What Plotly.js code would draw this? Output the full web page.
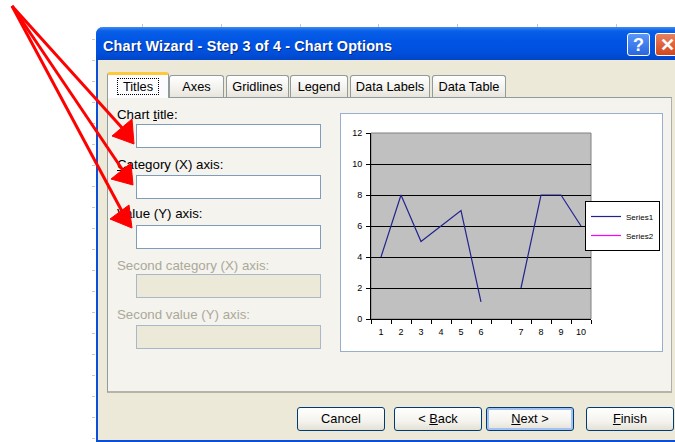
<!DOCTYPE html>
<html>
<head>
<meta charset="utf-8">
<script src="https://cdn.plot.ly/plotly-3.0.1.min.js"></script>
<style>
  html, body { margin:0; padding:0; }
  body { width:675px; height:442px; background:#ffffff; position:relative; overflow:hidden; font-family:"Liberation Sans", Arial, sans-serif; }
  .abs { position:absolute; }
  .tickv { position:absolute; width:1px; height:3px; background:#c8c8c8; top:24px; }
  .tickh { position:absolute; width:3px; height:1px; background:#c8c8c8; left:92px; }
  #dialog { left:96px; top:27px; width:600px; height:413px; background:#ECE9D8; border-left:2px solid #0B4FD8; border-bottom:3px solid #0B4FD8; border-top-left-radius:7px; }
  #titlebar { left:96px; top:27px; width:600px; height:33px; border-top-left-radius:7px;
    background:linear-gradient(#3C8CF5 0%, #0A5FE6 12%, #0055E5 40%, #0050DE 75%, #0046C8 100%); }
  #titletext { left:103px; top:38px; color:#fff; font:bold 14.4px "Liberation Sans", Arial, sans-serif; text-shadow:1px 1px 0 #0A2A80; white-space:nowrap; letter-spacing:0.15px; }
  .tbtn { top:33px; width:23px; height:23px; border:1px solid #fff; border-radius:3px; color:#fff; font:bold 18px "Liberation Sans", Arial, sans-serif; text-align:center; line-height:23px; box-sizing:border-box; }
  #help { left:627px; background:linear-gradient(#5A95F8, #2A67E0); }
  #close { left:655px; width:24px; background:linear-gradient(#E8825E, #D2461D); }
  #panel { left:107px; top:97px; width:565px; height:296px; background:#F4F3EE; border:1px solid #919B9C; border-right:1px solid #B0AFA8; border-bottom:2px solid #B6B4AA; box-sizing:border-box; }
  .tab { top:75px; height:22px; background:linear-gradient(#FFFFFF, #F2F1EC 60%, #E7E5DC); border:1px solid #919B9C; border-bottom:none; border-radius:3px 3px 0 0; box-sizing:border-box; font-size:12.8px; color:#000; text-align:center; line-height:22px; }
  .tab.sel { top:72px; height:26px; background:#FCFCFE; border-top:3px solid #FFC83C; line-height:23px; z-index:2; }
  .tab.sel span { border:1px dotted #000; padding:0 5px; }
  .lbl { font-size:13.3px; color:#000; white-space:nowrap; }
  .lbl.dis { color:#ACA899; }
  .inp { left:136px; width:185px; height:24px; background:#fff; border:1px solid #7F9DB9; box-sizing:border-box; }
  .inp.dis { background:#ECE9D8; border-color:#A9B8C9; }
  #chartbox { left:340px; top:113px; width:323px; height:239px; background:#FFFFFF; border:1px solid #97AECC; box-sizing:border-box; }
  #chart { left:341px; top:114px; width:321px; height:237px; }
  .btn { top:407px; height:24px; width:88px; border:1px solid #003C74; border-radius:3px; box-sizing:border-box; background:linear-gradient(#FFFFFF, #F4F3EE 60%, #E3E1D6); font-size:12.8px; text-align:center; line-height:22px; color:#000; }
  .btn.focus { box-shadow: inset 0 0 0 2px #A3C2F0; }
  #arrows { left:0; top:0; width:675px; height:442px; z-index:10; }
</style>
</head>
<body>
<div id="bgticks"></div>
<div id="dialog" class="abs"></div>
<div id="titlebar" class="abs"></div>
<div id="titletext" class="abs">Chart Wizard - Step 3 of 4 - Chart Options</div>
<div id="help" class="abs tbtn">?</div>
<div id="close" class="abs tbtn">✕</div>

<div id="panel" class="abs"></div>
<div class="abs tab sel" style="left:107px;width:62px;"><span>Titles</span></div>
<div class="abs tab" style="left:169px;width:55px;">Axes</div>
<div class="abs tab" style="left:226px;width:63px;">Gridlines</div>
<div class="abs tab" style="left:290px;width:58px;">Legend</div>
<div class="abs tab" style="left:350px;width:80px;">Data Labels</div>
<div class="abs tab" style="left:432px;width:74px;">Data Table</div>

<div class="abs lbl" style="left:117px;top:107px;">Chart <u>t</u>itle:</div>
<div class="abs inp" style="top:124px;"></div>
<div class="abs lbl" style="left:117px;top:157px;"><u>C</u>ategory (X) axis:</div>
<div class="abs inp" style="top:175px;"></div>
<div class="abs lbl" style="left:117px;top:206px;"><u>V</u>alue (Y) axis:</div>
<div class="abs inp" style="top:225px;"></div>
<div class="abs lbl dis" style="left:117px;top:258px;">Second category (X) axis:</div>
<div class="abs inp dis" style="top:274px;"></div>
<div class="abs lbl dis" style="left:117px;top:307px;">Second value (Y) axis:</div>
<div class="abs inp dis" style="top:325px;"></div>

<div id="chartbox" class="abs"></div>
<div id="chart" class="abs"></div>

<div class="abs btn" style="left:297px;">Cancel</div>
<div class="abs btn" style="left:394px;">&lt; <u>B</u>ack</div>
<div class="abs btn focus" style="left:486px;"><u>N</u>ext &gt;</div>
<div class="abs btn" style="left:586px;"><u>F</u>inish</div>

<svg id="arrows" class="abs" width="675" height="442">
  <g stroke="#FF0000" stroke-width="3" fill="#FF0000">
    <line x1="12" y1="6" x2="124" y2="130"/>
    <line x1="12" y1="6" x2="124" y2="172"/>
    <line x1="12" y1="6" x2="124" y2="215"/>
    <polygon points="112,136 132,119 134,144" stroke-width="1"/>
    <polygon points="111,179 131,163 133,185" stroke-width="1"/>
    <polygon points="110,219 129,205 132,228" stroke-width="1"/>
  </g>
</svg>

<script>
// background spreadsheet ticks
(function(){
  var bg = document.getElementById('bgticks');
  var xs = [142, 221, 300, 378, 457, 537, 616];
  xs.forEach(function(x){ var d=document.createElement('div'); d.className='tickv'; d.style.left=x+'px'; bg.appendChild(d); });
  for (var y=39; y<=438; y+=21){ var d=document.createElement('div'); d.className='tickh'; d.style.top=y+'px'; bg.appendChild(d); }
})();

// ---- chart data ----
var categories = ['1','2','3','4','5','6',' ','7','8','9','10'];
var series1 = [4, 8, 5, 6, 7, 1.1, null, 2, 8, 8, 6];
var series2 = [null, null, null, null, null, null, null, null, null, null, null];
var yTicks = [0, 2, 4, 6, 8, 10, 12];

var traces = [
  { x: categories, y: series1, name: 'Series1', type: 'scatter', mode: 'lines',
    line: { color: '#23238F', width: 1.2 }, connectgaps: false },
  { x: categories, y: series2, name: 'Series2', type: 'scatter', mode: 'lines',
    line: { color: '#FF00FF', width: 1.2 }, connectgaps: false }
];

var layout = {
  width: 321, height: 237,
  margin: { l: 30, r: 71, t: 19, b: 32, pad: 0, autoexpand: false },
  paper_bgcolor: '#FFFFFF',
  plot_bgcolor: '#C0C0C0',
  font: { family: 'Liberation Sans, Arial, sans-serif', size: 9, color: '#000' },
  showlegend: true,
  legend: { x: 1.3136, y: 0.5, xanchor: 'right', yanchor: 'middle', bgcolor: '#FFFFFF',
    bordercolor: '#000', borderwidth: 1,
    font: { family: 'Liberation Sans, Arial, sans-serif', size: 8 },
    itemwidth: 30, tracegroupgap: 0 },
  xaxis: { type: 'category', categoryorder: 'array', categoryarray: categories,
    range: [-0.5, categories.length - 0.5], autorange: false,
    tickson: 'boundaries', ticks: 'outside', ticklen: 4, tickcolor: '#000',
    ticklabelstandoff: 4,
    showline: true, linecolor: '#000', linewidth: 1, showgrid: false, zeroline: false,
    tickfont: { size: 9 }, fixedrange: true },
  yaxis: { range: [0, 12], autorange: false, tickvals: yTicks, ticks: 'outside', ticklen: 4, tickcolor: '#000',
    ticklabelstandoff: 2,
    showline: true, linecolor: '#000', linewidth: 1, showgrid: true, gridcolor: '#000', gridwidth: 1,
    zeroline: false, tickfont: { size: 9 }, fixedrange: true },
  shapes: [
    { type: 'rect', xref: 'paper', yref: 'paper', x0: 0, x1: 1, y0: 0, y1: 1,
      line: { color: '#808080', width: 1 }, layer: 'below' }
  ]
};

Plotly.newPlot('chart', traces, layout, { displayModeBar: false, staticPlot: true });
</script>
</body>
</html>
